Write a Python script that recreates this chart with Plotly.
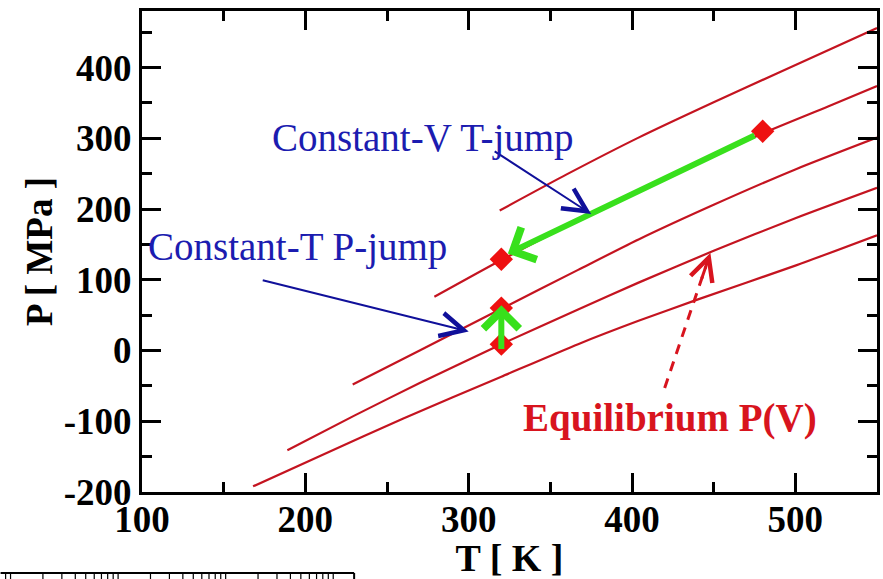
import plotly.graph_objects as go
import math

# ---------------- data ----------------
# equilibrium P(T) isochores (five volumes)
line1_T = [319, 360, 404, 450, 489, 550]
line1_P = [198, 249, 301, 351, 392, 456]
line2_T = [279, 320, 367, 404, 440, 480, 520, 550]
line2_P = [76, 128, 184, 226, 265, 307, 345, 374]
line3_T = [229, 270, 320, 367, 404, 450, 500, 550]
line3_P = [-48, 0, 59, 114, 157, 206, 256, 301]
line4_T = [189, 230, 270, 320, 367, 404, 450, 500, 550]
line4_P = [-141, -92, -46, 9, 58, 96, 141, 187, 230]
line5_T = [168, 210, 260, 320, 367, 404, 440, 500, 550]
line5_P = [-192, -148, -96, -37, 9, 42, 72, 120, 163]
lines_T = [line1_T, line2_T, line3_T, line4_T, line5_T]
lines_P = [line1_P, line2_P, line3_P, line4_P, line5_P]

# state points (diamonds)
state_T = [480, 320, 320, 320]
state_P = [310, 129, 60, 9]

# green jump arrows: (tail T, tail P, head T, head P)
vjump = [476, 305, 324, 137]
pjump = [320, 0, 320, 64]
# blue pointer arrows
vjump_ptr = [315, 283, 375, 193]
pjump_ptr = [173, 100, 300, 27]
# red dashed pointer
eq_ptr = [420, -53, 448, 138]

# text labels
label_vjump = ["Constant-V T-jump", 272, 300]
label_pjump = ["Constant-T P-jump", 195, 147]
label_eq = ["Equilibrium P(V)", 423, -96]

x_ticks = [100, 200, 300, 400, 500]
x_ticktext = ["100", "200", "300", "400", "500"]
y_ticks = [-200, -100, 0, 100, 200, 300, 400]
y_ticktext = ["-200", "-100", "0", "100", "200", "300", "400"]
x_range = [100, 550]
y_range = [-200, 480]

# ---------------- style ----------------
RED_LINE = "#c41420"
RED_DIAM = "#ee1111"
GREEN = "#38e01c"
BLUE_TXT = "#1c1cb0"
BLUE_ARR = "#10109a"
RED_TXT = "#d8141e"
FONT = "Liberation Serif"

W, H = 883, 579
ML, MR, MT, MB = 142, 3, 11, 87

fig = go.Figure()

for T, P in zip(lines_T, lines_P):
    fig.add_trace(go.Scatter(x=T, y=P, mode="lines", line=dict(color=RED_LINE, width=2.2, shape="spline", smoothing=0.6),
                             showlegend=False, hoverinfo="skip"))

# dashed stem of the equilibrium pointer
frac = 0.9
fig.add_trace(go.Scatter(x=[eq_ptr[0], eq_ptr[0] + frac * (eq_ptr[2] - eq_ptr[0])],
                         y=[eq_ptr[1], eq_ptr[1] + frac * (eq_ptr[3] - eq_ptr[1])],
                         mode="lines", line=dict(color=RED_TXT, width=3, dash="10px,8px"),
                         showlegend=False, hoverinfo="skip"))

fig.add_trace(go.Scatter(x=state_T, y=state_P, mode="markers",
                         marker=dict(symbol="diamond", size=18, color=RED_DIAM, line=dict(width=0)),
                         showlegend=False, hoverinfo="skip"))

def arrow(spec, color, width, head, size):
    fig.add_annotation(x=spec[2], y=spec[3], ax=spec[0], ay=spec[1], xref="x", yref="y",
                       axref="x", ayref="y", showarrow=True, arrowhead=head, arrowsize=size,
                       arrowwidth=width, arrowcolor=color, text="", standoff=0)

arrow(vjump, GREEN, 6, 4, 1.15)
arrow(pjump, GREEN, 6, 4, 1.15)
arrow(vjump_ptr, BLUE_ARR, 2, 5, 2.3)
arrow(pjump_ptr, BLUE_ARR, 2, 5, 2.3)
# head of the dashed pointer (short solid segment)
fig.add_annotation(x=eq_ptr[2], y=eq_ptr[3],
                   ax=eq_ptr[0] + 0.8 * (eq_ptr[2] - eq_ptr[0]), ay=eq_ptr[1] + 0.8 * (eq_ptr[3] - eq_ptr[1]),
                   xref="x", yref="y", axref="x", ayref="y", showarrow=True, arrowhead=5,
                   arrowsize=1.5, arrowwidth=3, arrowcolor=RED_TXT, text="", standoff=0)

for txt, tx, ty in [label_vjump, label_pjump]:
    fig.add_annotation(x=tx, y=ty, text=txt, showarrow=False, xref="x", yref="y",
                       font=dict(family=FONT, size=39, color=BLUE_TXT))
fig.add_annotation(x=label_eq[1], y=label_eq[2], text=label_eq[0], showarrow=False, xref="x", yref="y",
                   font=dict(family=FONT, size=39, color=RED_TXT, weight="bold"))

# ruler fragment at bottom-left of the picture
pw, ph = W - ML - MR, H - MT - MB
def px(x):
    return (x - ML) / pw
def py(y):
    return (H - MB - y) / ph
ruler_y, ruler_end = 573, 355
fig.add_shape(type="line", xref="paper", yref="paper", x0=px(0), x1=px(ruler_end), y0=py(ruler_y), y1=py(ruler_y),
              line=dict(color="black", width=2))
fig.add_shape(type="line", xref="paper", yref="paper", x0=px(ruler_end), x1=px(ruler_end), y0=py(ruler_y), y1=py(H),
              line=dict(color="black", width=2))
for s in [-98, 10, 118, 226, 334]:
    for k in range(1, 10):
        xx = s + math.log10(k) * 108
        if 0 <= xx < ruler_end:
            fig.add_shape(type="line", xref="paper", yref="paper", x0=px(xx), x1=px(xx),
                          y0=py(ruler_y), y1=py(H), line=dict(color="black", width=1.2))

axis_common = dict(showline=True, linecolor="black", linewidth=3, mirror="ticks", ticks="inside",
                   ticklen=19, tickwidth=3, tickcolor="black", showgrid=False, zeroline=False,
                   tickfont=dict(family=FONT, size=37, color="black", weight="bold"),
                   minor=dict(ticks="inside", ticklen=10, tickwidth=3, tickcolor="black", showgrid=False))

fig.update_xaxes(range=x_range, tickvals=x_ticks, ticktext=x_ticktext, minor_dtick=50, minor_tick0=100,
                 ticklabelstandoff=-7,
                 title=dict(text="T [ K ]", font=dict(family=FONT, size=38, color="black", weight="bold"), standoff=2),
                 **axis_common)
fig.update_yaxes(range=y_range, tickvals=y_ticks, ticktext=y_ticktext, minor_dtick=50, minor_tick0=-200,
                 title=dict(text="P [ MPa ]", font=dict(family=FONT, size=37, color="black", weight="bold"), standoff=0),
                 **axis_common)

fig.update_layout(width=W, height=H, margin=dict(l=ML, r=MR, t=MT, b=MB, pad=0),
                  plot_bgcolor="white", paper_bgcolor="white", showlegend=False)

fig.write_html("out.html")
